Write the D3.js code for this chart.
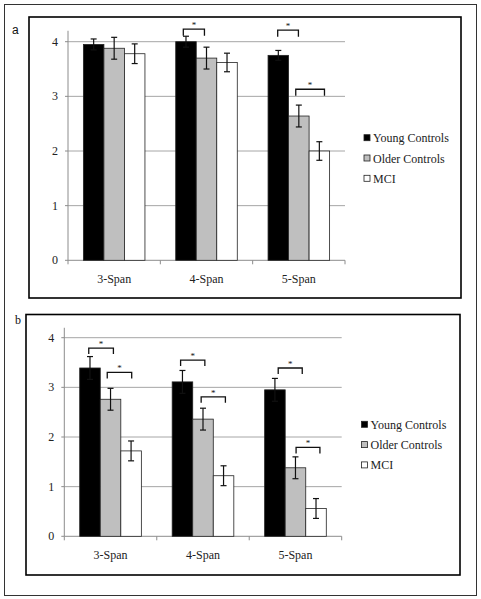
<!DOCTYPE html>
<html><head><meta charset="utf-8">
<script src="https://cdn.jsdelivr.net/npm/d3@7"></script>
<style>html,body{margin:0;padding:0;background:#fff;}svg{display:block;}</style>
</head><body>
<script>
// ---- data ----
const categories = ["3-Span", "4-Span", "5-Span"];
const series = ["Young Controls", "Older Controls", "MCI"];
const seriesColors = ["#000000", "#bfbfbf", "#ffffff"];
const yTicks = [0, 1, 2, 3, 4];
// means [category][series]
const meansA = [[3.95, 3.88, 3.78], [4.00, 3.70, 3.62], [3.75, 2.64, 2.00]];
const errA   = [[0.10, 0.20, 0.18], [0.10, 0.20, 0.17], [0.09, 0.20, 0.17]];
const meansB = [[3.39, 2.76, 1.72], [3.11, 2.36, 1.22], [2.95, 1.38, 0.56]];
const errB   = [[0.23, 0.22, 0.20], [0.23, 0.22, 0.20], [0.23, 0.22, 0.20]];
// significance brackets: [category index, start (bar units), end (bar units), y value]
const bracketsA = [[1, 0.37, 1.40, 4.23], [2, 0.47, 1.48, 4.21], [2, 1.35, 2.75, 3.13]];
const bracketsB = [[0, 0.44, 1.64, 3.79], [0, 1.34, 2.53, 3.30], [1, 0.41, 1.59, 3.55],
                   [1, 1.41, 2.59, 2.81], [2, 0.66, 1.83, 3.39], [2, 1.53, 2.69, 1.79]];

const W = 481, H = 599;
const svg = d3.select("body").append("svg").attr("width", W).attr("height", H);
const serif = "'Liberation Serif','Times New Roman',serif";

// outer frame
svg.append("rect").attr("x", 4.5).attr("y", 4.5).attr("width", 472).attr("height", 591)
  .attr("fill", "none").attr("stroke", "#333").attr("stroke-width", 1);

function panel(cfg) {
  const g = svg.append("g");
  g.append("rect").attr("x", cfg.box[0]).attr("y", cfg.box[1]).attr("width", cfg.box[2]).attr("height", cfg.box[3])
    .attr("fill", "none").attr("stroke", "#000").attr("stroke-width", 1.6);
  g.append("text").attr("x", cfg.labelPos[0]).attr("y", cfg.labelPos[1]).text(cfg.label)
    .attr("font-family", cfg.labelFont).attr("font-size", 12).attr("fill", "#111");

  const x = d3.scaleBand().domain(categories).range(cfg.xRange).paddingInner(0).paddingOuter(0);
  const y = d3.scaleLinear().domain([0, 4]).range(cfg.yRange);
  const bw = x.bandwidth();
  const inner = d3.scaleLinear().domain([0, 3]).range([bw / 6, bw * 5 / 6]);
  const yMax = 4.2;

  // gridlines
  g.selectAll(".grid").data(yTicks.filter(d => d > 0)).join("line")
    .attr("x1", cfg.xRange[0]).attr("x2", cfg.xRange[1])
    .attr("y1", d => y(d)).attr("y2", d => y(d))
    .attr("stroke", "#a6a6a6").attr("stroke-width", 1);

  // y axis
  g.append("line").attr("x1", cfg.xRange[0]).attr("x2", cfg.xRange[0])
    .attr("y1", y(yMax)).attr("y2", y(0)).attr("stroke", "#8c8c8c");
  g.selectAll(".yt").data(yTicks).join("line")
    .attr("x1", cfg.xRange[0] - 3).attr("x2", cfg.xRange[0])
    .attr("y1", d => y(d)).attr("y2", d => y(d)).attr("stroke", "#8c8c8c");
  g.selectAll(".yl").data(yTicks).join("text")
    .attr("x", cfg.xRange[0] - 10).attr("y", d => y(d) + 4)
    .attr("text-anchor", "end").attr("font-family", serif).attr("font-size", 12).attr("fill", "#222")
    .text(d => d);

  // x axis
  g.append("line").attr("x1", cfg.xRange[0]).attr("x2", cfg.xRange[1])
    .attr("y1", y(0)).attr("y2", y(0)).attr("stroke", "#8c8c8c");
  const bounds = categories.map(c => x(c)).concat([x(categories[categories.length - 1]) + bw]);
  g.selectAll(".xt").data(bounds).join("line")
    .attr("x1", d => d).attr("x2", d => d).attr("y1", y(0)).attr("y2", y(0) + 4).attr("stroke", "#8c8c8c");
  g.selectAll(".xl").data(categories).join("text")
    .attr("x", d => x(d) + bw / 2).attr("y", y(0) + 23)
    .attr("text-anchor", "middle").attr("font-family", serif).attr("font-size", 12).attr("fill", "#222")
    .text(d => d);

  // bars
  const flat = [];
  categories.forEach((c, ci) => series.forEach((s, si) =>
    flat.push({c, ci, si, v: cfg.means[ci][si], e: cfg.err[ci][si]})));
  g.selectAll(".bar").data(flat).join("rect")
    .attr("x", d => x(d.c) + inner(d.si)).attr("width", inner(1) - inner(0))
    .attr("y", d => y(d.v)).attr("height", d => y(0) - y(d.v))
    .attr("fill", d => seriesColors[d.si]).attr("stroke", "#222").attr("stroke-width", 0.8);

  // error bars
  const eg = g.selectAll(".err").data(flat).join("g");
  eg.append("line")
    .attr("x1", d => x(d.c) + inner(d.si + 0.5)).attr("x2", d => x(d.c) + inner(d.si + 0.5))
    .attr("y1", d => y(d.v + d.e)).attr("y2", d => y(d.v - d.e))
    .attr("stroke", "#111").attr("stroke-width", 1.2);
  [1, -1].forEach(sign => {
    eg.append("line")
      .attr("x1", d => x(d.c) + inner(d.si + 0.5) - 3).attr("x2", d => x(d.c) + inner(d.si + 0.5) + 3)
      .attr("y1", d => y(d.v + sign * d.e)).attr("y2", d => y(d.v + sign * d.e))
      .attr("stroke", "#111").attr("stroke-width", 1.2);
  });

  // brackets
  const leg = 0.12;
  cfg.brackets.forEach(b => {
    const cx = x(categories[b[0]]);
    const x0 = cx + inner(b[1]), x1 = cx + inner(b[2]);
    g.append("path")
      .attr("d", `M${x0},${y(b[3] - leg)}V${y(b[3])}H${x1}V${y(b[3] - leg)}`)
      .attr("fill", "none").attr("stroke", "#111").attr("stroke-width", 1.3);
    g.append("text").attr("x", (x0 + x1) / 2).attr("y", y(b[3]) - 1)
      .attr("text-anchor", "middle").attr("font-family", serif).attr("font-size", 9).attr("fill", "#111")
      .text("*");
  });

  // legend
  series.forEach((s, i) => {
    const ly = cfg.legend[1] + i * 20.3;
    g.append("rect").attr("x", cfg.legend[0]).attr("y", ly - 3).attr("width", 6).attr("height", 6)
      .attr("fill", seriesColors[i]).attr("stroke", "#222").attr("stroke-width", 0.8);
    g.append("text").attr("x", cfg.legend[0] + 9).attr("y", ly + 4.5)
      .attr("font-family", serif).attr("font-size", 12).attr("fill", "#222").text(s);
  });
}

panel({
  box: [29, 17, 432, 281], label: "a", labelPos: [12, 34], labelFont: "'Liberation Sans',Arial,sans-serif",
  xRange: [68, 345], yRange: [260.3, 41.7],
  means: meansA, err: errA, brackets: bracketsA, legend: [364, 137.7]
});
panel({
  box: [26, 314.5, 434, 260.5], label: "b", labelPos: [15, 324], labelFont: serif,
  xRange: [64.3, 341.7], yRange: [536.3, 337.7],
  means: meansB, err: errB, brackets: bracketsB, legend: [361.5, 424.3]
});
</script>
</body></html>
